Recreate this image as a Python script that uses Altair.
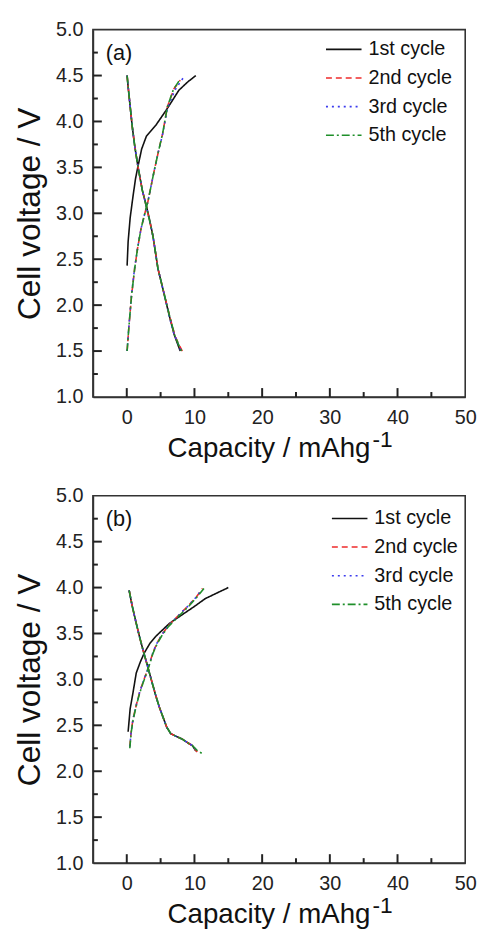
import altair as alt
import pandas as pd

cycles = ["1st cycle", "2nd cycle", "3rd cycle", "5th cycle"]
colors = ["#111111", "#ee2b2b", "#3b3bee", "#1f8f2a"]
dashes = [[1, 0], [6, 4], [2, 4], [8, 3, 2, 3]]
panel_labels = ["(a)", "(b)"]

x_major = [0, 10, 20, 30, 40]
x_minor = [5, 15, 25, 35, 45]
y_major = [1.5, 2.0, 2.5, 3.0, 3.5, 4.0, 4.5]
y_minor = [1.25, 1.75, 2.25, 2.75, 3.25, 3.75, 4.25, 4.75]
x_labels = [0, 10, 20, 30, 40, 50]
y_labels = [1.0, 1.5, 2.0, 2.5, 3.0, 3.5, 4.0, 4.5, 5.0]

# ---------------- panel (a) ----------------
a1_ch_x = [0.05, 0.2, 0.5, 0.93, 1.3, 1.65, 2.2, 2.9, 4.3, 5.8, 7.7, 9.0, 10.2]
a1_ch_v = [2.43, 2.69, 2.95, 3.19, 3.38, 3.51, 3.70, 3.84, 3.96, 4.12, 4.34, 4.43, 4.50]
a1_dis_x = [0.05, 0.2, 0.45, 0.8, 1.18, 1.65, 2.3, 2.9, 3.4, 3.85, 4.6, 5.55, 6.3, 7.0, 7.5, 7.9]
a1_dis_v = [4.50, 4.38, 4.20, 3.95, 3.73, 3.51, 3.25, 3.08, 2.92, 2.76, 2.40, 2.11, 1.88, 1.68, 1.58, 1.50]

a2_ch_x = [0.05, 0.3, 0.7, 1.17, 1.6, 2.1, 2.6, 3.1, 3.6, 4.1, 4.7, 5.3, 6.0, 7.0, 7.9]
a2_ch_v = [1.50, 1.75, 2.10, 2.40, 2.62, 2.83, 2.98, 3.12, 3.30, 3.48, 3.68, 3.87, 4.16, 4.36, 4.45]
a2_dis_x = [0.05, 0.2, 0.45, 0.8, 1.2, 1.7, 2.3, 2.9, 3.4, 3.9, 4.6, 5.6, 6.4, 7.1, 7.7, 8.2]
a2_dis_v = [4.50, 4.38, 4.20, 3.95, 3.72, 3.49, 3.25, 3.07, 2.91, 2.74, 2.40, 2.10, 1.86, 1.67, 1.57, 1.50]

a3_ch_x = [0.05, 0.3, 0.7, 1.15, 1.6, 2.1, 2.6, 3.1, 3.6, 4.1, 4.7, 5.3, 6.0, 7.1, 8.0, 8.6]
a3_ch_v = [1.50, 1.76, 2.11, 2.40, 2.62, 2.83, 2.98, 3.12, 3.30, 3.48, 3.68, 3.86, 4.14, 4.34, 4.44, 4.50]
a3_dis_x = [0.05, 0.2, 0.45, 0.8, 1.2, 1.7, 2.3, 2.9, 3.4, 3.9, 4.6, 5.6, 6.3, 7.0, 7.6, 8.0]
a3_dis_v = [4.50, 4.38, 4.20, 3.95, 3.72, 3.49, 3.25, 3.07, 2.91, 2.74, 2.40, 2.10, 1.87, 1.68, 1.58, 1.50]

a5_ch_x = [0.05, 0.3, 0.7, 1.17, 1.6, 2.1, 2.6, 3.1, 3.6, 4.1, 4.7, 5.3, 6.0, 6.9, 7.7]
a5_ch_v = [1.50, 1.75, 2.10, 2.40, 2.62, 2.83, 2.98, 3.12, 3.30, 3.48, 3.68, 3.87, 4.16, 4.35, 4.44]
a5_dis_x = [0.05, 0.2, 0.45, 0.8, 1.2, 1.7, 2.3, 2.9, 3.4, 3.9, 4.6, 5.6, 6.4, 7.1, 7.6, 8.1]
a5_dis_v = [4.50, 4.38, 4.20, 3.95, 3.72, 3.49, 3.25, 3.07, 2.91, 2.74, 2.40, 2.10, 1.86, 1.67, 1.58, 1.50]

# ---------------- panel (b) ----------------
b1_ch_x = [0.2, 0.5, 0.93, 1.4, 2.0, 2.6, 3.4, 4.3, 5.3, 6.3, 7.5, 8.7, 10.1, 11.6, 13.3, 15.0]
b1_ch_v = [2.43, 2.68, 2.86, 3.07, 3.19, 3.29, 3.39, 3.47, 3.54, 3.61, 3.67, 3.73, 3.80, 3.88, 3.94, 4.00]
b1_dis_x = [0.35, 0.8, 1.4, 1.9, 2.4, 2.9, 3.35, 3.8, 4.3, 4.8, 5.3, 5.9, 6.5, 7.3, 8.2, 9.0, 9.7, 10.2]
b1_dis_v = [3.97, 3.80, 3.61, 3.46, 3.32, 3.19, 3.07, 2.95, 2.82, 2.70, 2.60, 2.48, 2.41, 2.38, 2.35, 2.31, 2.28, 2.22]

b2_ch_x = [0.45, 0.65, 0.93, 1.4, 1.9, 2.4, 2.9, 3.4, 3.85, 4.5, 5.3, 6.1, 7.0, 8.1, 9.2, 10.3, 11.2]
b2_ch_v = [2.27, 2.43, 2.57, 2.72, 2.86, 2.97, 3.07, 3.18, 3.29, 3.40, 3.50, 3.58, 3.65, 3.73, 3.81, 3.90, 3.99]
b2_dis_x = [0.35, 0.8, 1.4, 1.9, 2.4, 2.9, 3.35, 3.8, 4.3, 4.8, 5.3, 5.9, 6.5, 7.3, 8.2, 9.0, 9.7, 10.4]
b2_dis_v = [3.97, 3.80, 3.61, 3.46, 3.32, 3.19, 3.07, 2.95, 2.82, 2.70, 2.60, 2.48, 2.41, 2.38, 2.35, 2.31, 2.28, 2.21]

b3_ch_x = [0.45, 0.65, 0.93, 1.4, 1.9, 2.4, 2.9, 3.4, 3.85, 4.5, 5.3, 6.1, 7.0, 8.1, 9.2, 10.3, 11.1]
b3_ch_v = [2.27, 2.43, 2.57, 2.72, 2.86, 2.97, 3.07, 3.18, 3.29, 3.40, 3.50, 3.58, 3.65, 3.73, 3.81, 3.90, 3.98]
b3_dis_x = [0.35, 0.8, 1.4, 1.9, 2.4, 2.9, 3.35, 3.8, 4.3, 4.8, 5.3, 5.9, 6.5, 7.3, 8.2, 9.0, 9.7, 10.5]
b3_dis_v = [3.97, 3.80, 3.61, 3.46, 3.32, 3.19, 3.07, 2.95, 2.82, 2.70, 2.60, 2.48, 2.41, 2.38, 2.35, 2.31, 2.28, 2.21]

b5_ch_x = [0.45, 0.65, 0.93, 1.4, 1.9, 2.4, 2.9, 3.4, 3.85, 4.5, 5.3, 6.1, 7.0, 8.1, 9.2, 10.3, 11.4]
b5_ch_v = [2.25, 2.42, 2.56, 2.71, 2.85, 2.96, 3.06, 3.17, 3.28, 3.39, 3.49, 3.57, 3.64, 3.72, 3.80, 3.89, 3.99]
b5_dis_x = [0.35, 0.8, 1.4, 1.9, 2.4, 2.9, 3.35, 3.8, 4.3, 4.8, 5.3, 5.9, 6.5, 7.3, 8.2, 9.0, 9.7, 10.5, 11.2]
b5_dis_v = [3.97, 3.80, 3.61, 3.46, 3.32, 3.19, 3.07, 2.95, 2.82, 2.70, 2.60, 2.48, 2.41, 2.38, 2.35, 2.31, 2.28, 2.22, 2.19]

panel_a = {
    "1st cycle": [(a1_ch_x, a1_ch_v), (a1_dis_x, a1_dis_v)],
    "2nd cycle": [(a2_ch_x, a2_ch_v), (a2_dis_x, a2_dis_v)],
    "3rd cycle": [(a3_ch_x, a3_ch_v), (a3_dis_x, a3_dis_v)],
    "5th cycle": [(a5_ch_x, a5_ch_v), (a5_dis_x, a5_dis_v)],
}
panel_b = {
    "1st cycle": [(b1_ch_x, b1_ch_v), (b1_dis_x, b1_dis_v)],
    "2nd cycle": [(b2_ch_x, b2_ch_v), (b2_dis_x, b2_dis_v)],
    "3rd cycle": [(b3_ch_x, b3_ch_v), (b3_dis_x, b3_dis_v)],
    "5th cycle": [(b5_ch_x, b5_ch_v), (b5_dis_x, b5_dis_v)],
}


def to_df(panel):
    rows = []
    for cyc, branches in panel.items():
        for bi, (xs, vs) in enumerate(branches):
            for i, (xv, vv) in enumerate(zip(xs, vs)):
                rows.append({"cycle": cyc, "branch": f"{cyc}-{bi}", "i": i, "x": xv, "v": vv})
    return pd.DataFrame(rows)


W, H = 377, 372
FONT = "Liberation Sans"
TICK = "#222222"
xs = alt.Scale(domain=[-5, 50], nice=False, zero=False)
ys = alt.Scale(domain=[1, 5], nice=False, zero=False)


def xenc():
    return alt.X("x:Q", scale=xs,
                 axis=alt.Axis(values=x_labels, ticks=False, tickSize=0, grid=False,
                               labelPadding=11, labelFontSize=20, title=None,
                               labelFlush=False))


def yenc():
    return alt.Y("v:Q", scale=ys,
                 axis=alt.Axis(values=y_labels, ticks=False, tickSize=0, grid=False,
                               labelPadding=10, labelFontSize=20, format=".1f",
                               title="Cell voltage / V", titleFontSize=32,
                               titleFontWeight="normal", titlePadding=9,
                               labelFlush=False))


def panel(panel_data, label, leg_x, leg_y):
    df = to_df(panel_data)
    leg = alt.Legend(orient="none", legendX=leg_x, legendY=leg_y, title=None,
                     symbolType="stroke", symbolSize=1296, symbolStrokeWidth=1.6,
                     labelFontSize=20, labelFont=FONT, labelColor="#111",
                     rowPadding=-1, labelOffset=6, padding=0)
    lines = alt.Chart(df).mark_line(strokeWidth=1.6).encode(
        x=xenc(), y=yenc(),
        color=alt.Color("cycle:N", scale=alt.Scale(domain=cycles, range=colors), legend=leg),
        strokeDash=alt.StrokeDash("cycle:N", scale=alt.Scale(domain=cycles, range=dashes), legend=leg),
        detail="branch:N",
        order="i:Q",
    )
    tx_maj = alt.Chart(pd.DataFrame({"x": x_major})).mark_rule(color=TICK, strokeWidth=2).encode(
        x=xenc(), y=alt.value(H), y2=alt.value(H - 9))
    tx_min = alt.Chart(pd.DataFrame({"x": x_minor})).mark_rule(color=TICK, strokeWidth=2).encode(
        x=xenc(), y=alt.value(H), y2=alt.value(H - 5))
    ty_maj = alt.Chart(pd.DataFrame({"v": y_major})).mark_rule(color=TICK, strokeWidth=2).encode(
        y=yenc(), x=alt.value(0), x2=alt.value(9))
    ty_min = alt.Chart(pd.DataFrame({"v": y_minor})).mark_rule(color=TICK, strokeWidth=2).encode(
        y=yenc(), x=alt.value(0), x2=alt.value(5))
    lab = alt.Chart(pd.DataFrame({"t": [label]})).mark_text(
        align="left", baseline="middle", fontSize=22, font=FONT, color="#111").encode(
        text="t:N", x=alt.value(13), y=alt.value(24))
    xt1 = alt.Chart(pd.DataFrame({"t": ["Capacity / mAhg"]})).mark_text(
        align="right", baseline="alphabetic", fontSize=28, font=FONT, color="#111").encode(
        text="t:N", x=alt.value(281), y=alt.value(H + 61))
    xt2 = alt.Chart(pd.DataFrame({"t": ["-1"]})).mark_text(
        align="left", baseline="alphabetic", fontSize=23, font=FONT, color="#111").encode(
        text="t:N", x=alt.value(283), y=alt.value(H + 51))
    return alt.layer(lines, tx_maj, tx_min, ty_maj, ty_min, lab, xt1, xt2).properties(width=W, height=H)


chart = alt.vconcat(panel(panel_a, panel_labels[0], 235, 1), panel(panel_b, panel_labels[1], 241, 4),
                    spacing=100, bounds="flush").resolve_legend(
    color="independent", strokeDash="independent"
).configure_view(
    stroke="#333", strokeWidth=1.6
).configure_axis(
    domainColor="#333", domainWidth=1.6, labelColor="#222", titleColor="#111",
    labelFont=FONT, titleFont=FONT
).configure_text(font=FONT)

chart.save("out.html", embed_options={"renderer": "svg", "actions": False})
